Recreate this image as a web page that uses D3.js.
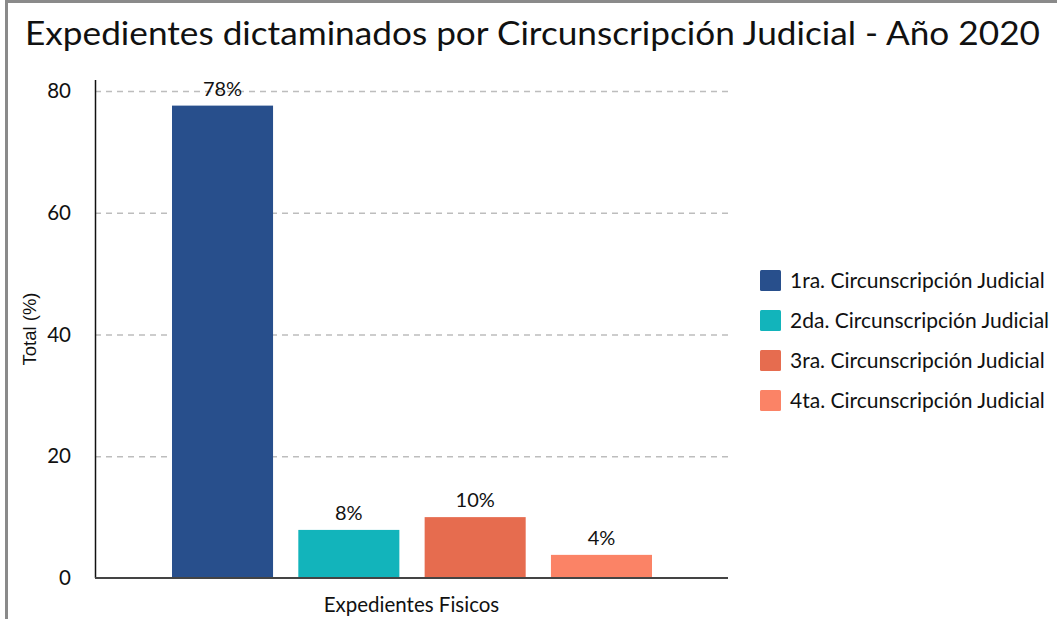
<!DOCTYPE html>
<html>
<head>
<meta charset="utf-8">
<script src="https://cdn.jsdelivr.net/npm/d3@7"></script>
<style>
  body { margin: 0; background: #fff; }
  text { font-family: Lato, "Open Sans", sans-serif; fill: #111; }
</style>
</head>
<body>
<div id="chart"></div>
<script>
const width = 1057;
const height = 619;

// datos
const categorias = ["1ra. Circunscripción Judicial", "2da. Circunscripción Judicial",
                    "3ra. Circunscripción Judicial", "4ta. Circunscripción Judicial"];
const valores = [77.6, 7.9, 10.0, 3.8];
const colores = ["#284f8c", "#12b4bb", "#e66c4f", "#fb8366"];
const yTicks = [0, 20, 40, 60, 80];
const grupo = "Expedientes Fisicos";

const mLeft = 95, mRight = 728, mTop = 80, mBottom = 578;

let svg = d3.select("#chart").append("svg")
    .attr("width", width)
    .attr("height", height);

// marco
svg.append("path")
    .attr("d", `M6.5,${height} V1.5 H${width}`)
    .attr("fill", "none")
    .attr("stroke", "#8a8a8a")
    .attr("stroke-width", 3);

svg.append("text")
    .attr("x", 25)
    .attr("y", 45)
    .attr("textLength", 1015)
    .attr("lengthAdjust", "spacingAndGlyphs")
    .style("font-size", "33px")
    .text("Expedientes dictaminados por Circunscripción Judicial - Año 2020");

let yScale = d3.scaleLinear()
    .domain([0, 80])
    .range([mBottom, mBottom - 487]);

let x0 = d3.scaleBand()
    .domain([grupo])
    .range([mLeft, mRight]);

let x1 = d3.scaleBand()
    .domain(categorias)
    .range([x0(grupo) + 77, x0(grupo) + x0.bandwidth() - 76])
    .paddingInner(0.2);

// grilla
svg.append("g")
    .selectAll("line")
    .data(yTicks.filter(d => d > 0))
    .enter()
    .append("line")
    .attr("x1", mLeft)
    .attr("x2", mRight)
    .attr("y1", d => yScale(d) + 0.5)
    .attr("y2", d => yScale(d) + 0.5)
    .attr("stroke", "#bdbdbd")
    .attr("stroke-width", 1.3)
    .attr("stroke-dasharray", "6,5");

// eje y
let yAxis = svg.append("g")
    .attr("transform", `translate(${mLeft},0)`)
    .call(d3.axisLeft(yScale).tickValues(yTicks).tickSize(0).tickPadding(24));
yAxis.select(".domain").remove();
yAxis.selectAll("text")
    .style("font-size", "20.5px")
    .style("font-family", "Lato, sans-serif")
    .attr("fill", "#111");

svg.append("line")
    .attr("x1", mLeft + 0.5)
    .attr("x2", mLeft + 0.5)
    .attr("y1", mTop)
    .attr("y2", mBottom)
    .attr("stroke", "#111")
    .attr("stroke-width", 1.5);

svg.append("text")
    .attr("transform", `translate(36, ${(mTop + mBottom) / 2}) rotate(-90)`)
    .attr("text-anchor", "middle")
    .style("font-family", "'Liberation Sans', Arial, sans-serif")
    .style("font-size", "18.5px")
    .text("Total (%)");

// barras
svg.append("g")
    .selectAll("rect")
    .data(categorias)
    .enter()
    .append("rect")
    .attr("x", d => x1(d))
    .attr("width", x1.bandwidth())
    .attr("y", (d, i) => yScale(valores[i]))
    .attr("height", (d, i) => mBottom - yScale(valores[i]))
    .attr("fill", (d, i) => colores[i]);

svg.append("g")
    .selectAll("text")
    .data(categorias)
    .enter()
    .append("text")
    .attr("x", d => x1(d) + x1.bandwidth() / 2)
    .attr("y", (d, i) => yScale(valores[i]) - 10)
    .attr("text-anchor", "middle")
    .style("font-size", "20px")
    .text((d, i) => Math.round(valores[i]) + "%");

// eje x
svg.append("line")
    .attr("x1", mLeft)
    .attr("x2", mRight)
    .attr("y1", mBottom)
    .attr("y2", mBottom)
    .attr("stroke", "#444")
    .attr("stroke-width", 2);

svg.append("text")
    .attr("x", x0(grupo) + x0.bandwidth() / 2)
    .attr("y", 612)
    .attr("text-anchor", "middle")
    .style("font-size", "20.5px")
    .text(grupo);

// leyenda
let legend = svg.append("g")
    .selectAll("g")
    .data(categorias)
    .enter()
    .append("g")
    .attr("transform", (d, i) => `translate(760, ${270 + i * 40})`);

legend.append("rect")
    .attr("width", 21)
    .attr("height", 21)
    .attr("rx", 1.5)
    .attr("fill", (d, i) => colores[i]);

legend.append("text")
    .attr("x", 30)
    .attr("y", 18)
    .style("font-size", "21px")
    .text(d => d);
</script>
</body>
</html>
